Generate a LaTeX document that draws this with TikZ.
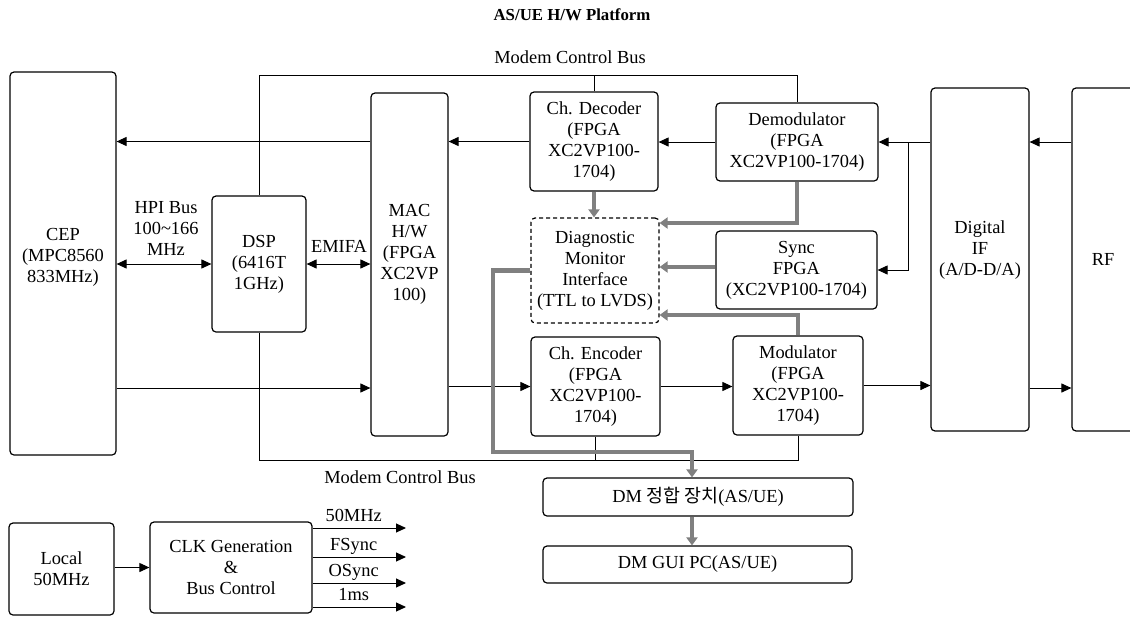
\documentclass[tikz,border=0pt]{standalone}
\usepackage{fontspec}
\setmainfont{Liberation Serif}
\newfontfamily\krfont{Noto Sans CJK KR}
\usepackage{tikz}
\usetikzlibrary{arrows.meta,calc}

\tikzset{
    blk/.style={draw, line width=0.6pt, rounded corners=2pt, align=center, inner sep=1pt,
        font=\fontsize{9.2}{10.5}\selectfont},
    dashblk/.style={blk, dash pattern=on 2pt off 1.5pt},
    lbl/.style={font=\fontsize{9.2}{10.5}\selectfont, align=center, inner sep=0pt},
    arr/.style={-{Triangle[length=5pt,width=4.5pt]}, line width=0.5pt},
    dblarr/.style={{Triangle[length=5pt,width=4.5pt]}-{Triangle[length=5pt,width=4.5pt]}, line width=0.5pt},
    garr/.style={-{Triangle[length=4pt,width=5.5pt]}, line width=2.2pt, draw=gray, color=gray}
}

\begin{document}
\begin{tikzpicture}[x=0.5pt, y=-0.5pt]
        \useasboundingbox (0,0) rectangle (1130,616);

        % Title
        \node[font=\bfseries\fontsize{8.4}{10}\selectfont] (title) at (572,15) {AS/UE H/W Platform};

        % Blocks
        \node[blk, minimum width=53pt, minimum height=191.5pt] (cep) at (63,263.5) {};
        \node[lbl] (ceptxt) at ($(cep.center)+(0,-6)$) {CEP\\(MPC8560\\833MHz)};
        \node[blk, minimum width=47pt, minimum height=68pt] (dsp) at (259,264) {DSP\\(6416T\\1GHz)};
        \node[blk, minimum width=38.5pt, minimum height=171.5pt] (mac) at (409.5,264.5) {};
        \node[lbl] (mactxt) at ($(mac.center)+(0,-10)$) {MAC\\H/W\\(FPGA\\XC2VP\\100)};
        \node[blk, minimum width=64pt, minimum height=49.5pt] (dec) at (594,141.5) {Ch. Decoder\\(FPGA\\XC2VP100-\\1704)};
        \node[blk, minimum width=81pt, minimum height=39pt] (demod) at (797,142) {Demodulator\\(FPGA\\XC2VP100-1704)};
        \node[dashblk, minimum width=64pt, minimum height=52.5pt] (diag) at (595,270.5) {Diagnostic\\Monitor\\Interface\\(TTL to LVDS)};
        \node[blk, minimum width=80.5pt, minimum height=39pt] (sync) at (796.5,270) {Sync\\FPGA\\(XC2VP100-1704)};
        \node[blk, minimum width=64.5pt, minimum height=49.5pt] (enc) at (595.5,386.5) {Ch. Encoder\\(FPGA\\XC2VP100-\\1704)};
        \node[blk, minimum width=65pt, minimum height=49.5pt] (mod) at (798,385.5) {Modulator\\(FPGA\\XC2VP100-\\1704)};
        \node[blk, minimum width=49pt, minimum height=171.5pt] (dif) at (980,259.5) {};
        \node[lbl] (diftxt) at ($(dif.center)+(0,-9)$) {Digital\\IF\\(A/D-D/A)};
        \node[blk, minimum width=31pt, minimum height=171.5pt] (rf) at (1103,259.5) {RF};
        \node[blk, minimum width=155pt, minimum height=19pt] (dm) at (698,497) {DM {\krfont 정합 장치}(AS/UE)};
        \node[blk, minimum width=154.5pt, minimum height=18.5pt] (gui) at (697.5,564.5) {DM GUI PC(AS/UE)};
        \node[blk, minimum width=52.5pt, minimum height=46pt] (local) at (61.5,569) {Local\\50MHz};
        \node[blk, minimum width=81pt, minimum height=45.5pt] (clk) at (231,567.5) {CLK Generation\\\&\\Bus Control};

        % Modem control bus (top and bottom)
        \draw[line width=0.5pt] (dsp.north) -- (dsp.north |- 0,75) -| (demod.north);
        \draw[line width=0.5pt] (dec.north) -- (dec.north |- 0,75);
        \node[lbl] (topbus) at (570,57) {Modem Control Bus};
        \draw[line width=0.5pt] (dsp.south) -- (dsp.south |- 0,460) -| (mod.south);
        \draw[line width=0.5pt] (enc.south) -- (enc.south |- 0,460);
        \node[lbl] (botbus) at (400,477) {Modem Control Bus};

        % Receive path
        \draw[arr] (rf.west |- demod.east) -- (dif.east |- demod.east);
        \draw[arr] (dif.west |- demod.east) -- (demod.east);
        \coordinate (split) at ($(demod.east)+(30,0)$);
        \draw[arr] (split) |- (sync.east);
        \draw[arr] (demod.west) -- (demod.west -| dec.east);
        \draw[arr] (dec.west) -- (dec.west -| mac.east);
        \draw[arr] (mac.west |- dec.west) -- (cep.east |- dec.west);

        % Host buses
        \draw[dblarr] (cep.east |- dsp.west) -- (dsp.west);
        \node[lbl] (hpi) at (166,228) {HPI Bus\\100\textasciitilde166\\MHz};
        \draw[dblarr] (dsp.east) -- (dsp.east -| mac.west);
        \node[lbl] (emifa) at (339,246) {EMIFA};

        % Transmit path
        \draw[arr] (cep.east |- 0,388) -- (mac.west |- 0,388);
        \draw[arr] (mac.east |- enc.west) -- (enc.west);
        \draw[arr] (enc.east) -- (enc.east -| mod.west);
        \draw[arr] (mod.east) -- (mod.east -| dif.west);
        \draw[arr] (dif.east |- 0,388) -- (rf.west |- 0,388);

        % Diagnostic monitor links
        \draw[garr] (dec.south) -- (dec.south |- diag.north);
        \draw[garr] (demod.south) |- (diag.east |- 0,223);
        \draw[garr] (sync.west |- 0,267) -- (diag.east |- 0,267);
        \draw[garr] (mod.north) |- (diag.east |- 0,315);
        \draw[garr] (diag.west) -| (493,452) -| ([xshift=-3pt]dm.north);
        \draw[garr] ([xshift=-3pt]dm.south) -- ([xshift=-3pt]dm.south |- gui.north);

        % Clock generation
        \draw[arr] (local.east |- clk.west) -- (clk.west);
        \foreach \y/\txt [count=\i] in {528/50MHz, 557/FSync, 583/OSync, 607/1ms} {
            \coordinate (clkout\i) at (406,\y);
            \draw[arr] (clk.east |- clkout\i) -- (clkout\i) node[lbl, pos=0.44, anchor=base, yshift=3.5pt] {\txt};
        }

\end{tikzpicture}
\end{document}
